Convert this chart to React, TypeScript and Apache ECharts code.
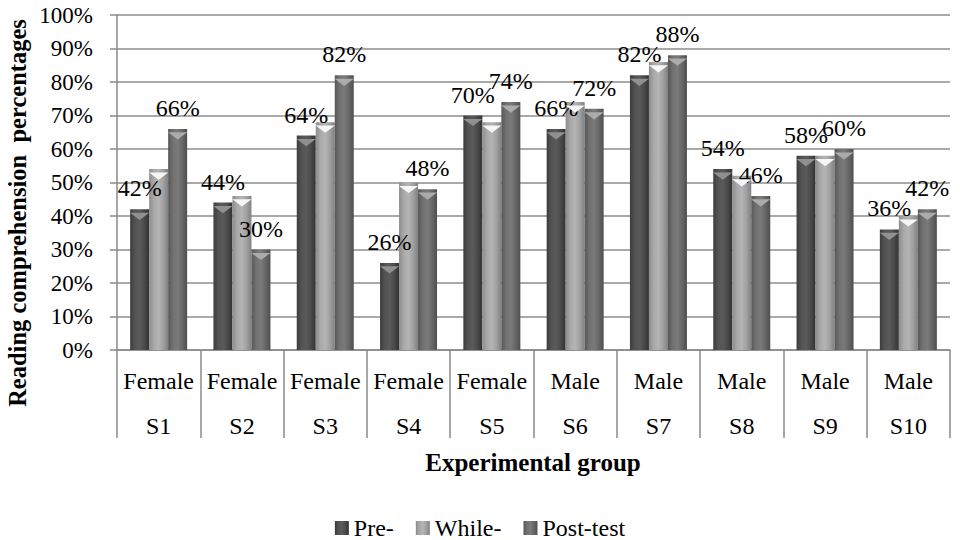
import React, { useEffect, useRef } from "react";
import * as echarts from "echarts";

const categories = ["S1", "S2", "S3", "S4", "S5", "S6", "S7", "S8", "S9", "S10"];
const genders = ["Female", "Female", "Female", "Female", "Female", "Male", "Male", "Male", "Male", "Male"];
const preValues = [42, 44, 64, 26, 70, 66, 82, 54, 58, 36];
const whileValues = [54, 46, 68, 50, 68, 74, 86, 52, 58, 40];
const postValues = [66, 30, 82, 48, 74, 72, 88, 46, 60, 42];
const seriesNames = ["Pre-", "While-", "Post-test"];

const FONT = "Liberation Serif";

function grad(stops: string[]) {
  return {
    type: "linear",
    x: 0,
    y: 0,
    x2: 1,
    y2: 0,
    colorStops: stops.map((c, i) => ({ offset: i / (stops.length - 1), color: c })),
  };
}

const barColors = [
  grad(["#3c3c3c", "#535353", "#5a5a5a", "#4a4a4a", "#323232"]),
  grad(["#8c8c8c", "#a9a9a9", "#b4b4b4", "#a0a0a0", "#808080"]),
  grad(["#575757", "#717171", "#7a7a7a", "#666666", "#4f4f4f"]),
];
const capColors = ["#909090", "#f6f6f6", "#ababab"];

export default function App() {
  const ref = useRef<HTMLDivElement>(null);
  useEffect(() => {
    if (!ref.current) return;
    const chart = echarts.init(ref.current, null, { renderer: "svg" });
    const values = [preValues, whileValues, postValues];
    const bars = values.map((vals, i) => ({
      name: seriesNames[i],
      type: "bar",
      data: vals,
      barWidth: 19,
      barGap: "0%",
      z: 2,
      itemStyle: { color: barColors[i] },
      label: {
        show: i !== 1,
        position: "top",
        distance: 9,
        formatter: "{c}%",
        fontFamily: FONT,
        fontSize: 24,
        color: "#000",
      },
    }));
    const caps = values.map((vals, i) => ({
      name: seriesNames[i] + "cap",
      type: "pictorialBar",
      data: vals,
      barWidth: 19,
      barGap: "0%",
      symbol: "path://M0,0 L20,0 L10,7 Z",
      symbolSize: [19, 7],
      symbolPosition: "end",
      symbolOffset: [0, "50%"],
      z: 5,
      silent: true,
      itemStyle: { color: capColors[i] },
      label: { show: false },
    }));
    chart.setOption({
      animation: false,
      backgroundColor: "#ffffff",
      textStyle: { fontFamily: FONT },
      grid: { left: 117, right: 10, top: 15, bottom: 190, containLabel: false },
      legend: {
        data: seriesNames,
        left: "center",
        top: 511,
        icon: "rect",
        itemWidth: 14,
        itemHeight: 14,
        itemGap: 22,
        textStyle: { fontFamily: FONT, fontSize: 24, color: "#000" },
      },
      xAxis: {
        type: "category",
        data: categories,
        axisLine: { show: true, lineStyle: { color: "#8a8a8a", width: 1.5 } },
        axisTick: { show: true, length: 88, interval: 0, lineStyle: { color: "#8a8a8a", width: 1.5 } },
        axisLabel: {
          interval: 0,
          margin: 8,
          fontFamily: FONT,
          formatter: (v: string, idx: number) => `{a|${genders[idx]}}\n{b|${v}}`,
          rich: {
            a: { fontFamily: FONT, fontSize: 24, color: "#000", lineHeight: 45 },
            b: { fontFamily: FONT, fontSize: 24, color: "#000", lineHeight: 45 },
          },
        },
      },
      yAxis: {
        type: "value",
        min: 0,
        max: 100,
        interval: 10,
        axisLine: { show: true, lineStyle: { color: "#8a8a8a", width: 1.5 } },
        axisTick: { show: true, length: 7, lineStyle: { color: "#8a8a8a", width: 1.5 } },
        splitLine: { show: true, lineStyle: { color: "#8c8c8c", width: 1.5 } },
        axisLabel: {
          formatter: "{value}%",
          margin: 24,
          fontFamily: FONT,
          fontSize: 23,
          color: "#000",
        },
      },
      graphic: [
        {
          type: "text",
          x: 17,
          y: 213,
          rotation: Math.PI / 2,
          style: {
            text: "Reading comprehension  percentages",
            fontFamily: FONT,
            fontWeight: "bold",
            fontSize: 24.5,
            fill: "#000",
            textAlign: "center",
            textVerticalAlign: "middle",
          },
        },
        {
          type: "text",
          x: 533,
          y: 462,
          style: {
            text: "Experimental group",
            fontFamily: FONT,
            fontWeight: "bold",
            fontSize: 25,
            fill: "#000",
            textAlign: "center",
            textVerticalAlign: "middle",
          },
        },
      ],
      series: [...bars, ...caps],
    });
    return () => chart.dispose();
  }, []);
  return (
    <div
      ref={ref}
      style={{ position: "absolute", left: 0, top: 0, width: 960, height: 540 }}
    />
  );
}
